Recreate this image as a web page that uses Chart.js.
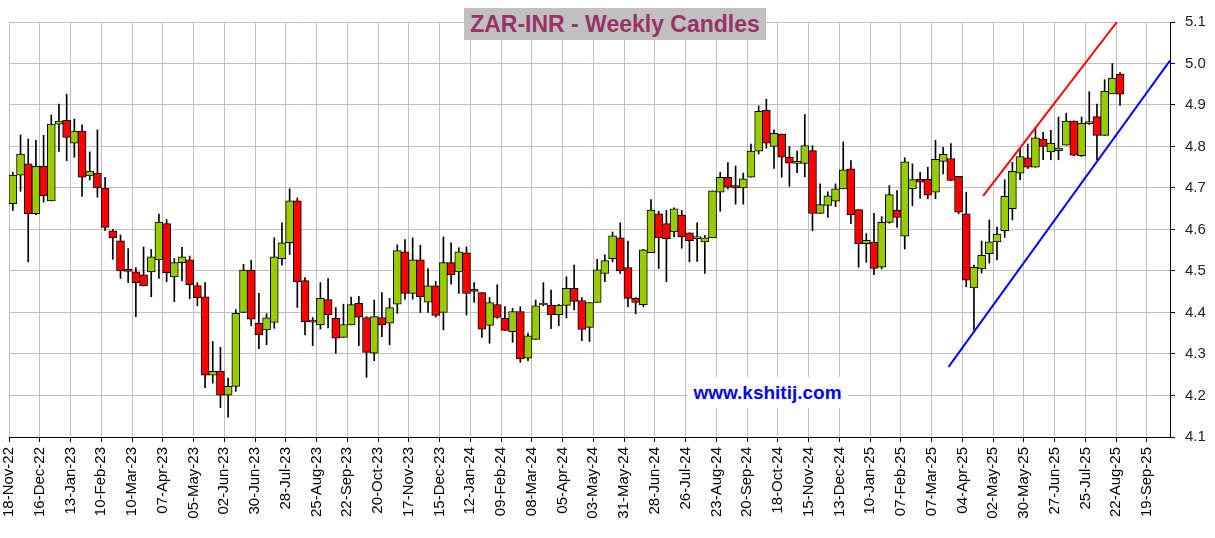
<!DOCTYPE html>
<html>
<head>
<meta charset="utf-8">
<title>ZAR-INR - Weekly Candles</title>
<script src="https://cdn.jsdelivr.net/npm/chart.js@4.4.1/dist/chart.umd.min.js"></script>
<style>
  body { margin: 0; background: #fff; font-family: "Liberation Sans", Arial, sans-serif; }
  #wrap { position: relative; width: 1215px; height: 538px; }
  #title { position: absolute; left: 464px; top: 8px; width: 302px; height: 32px; background: #c0c0c0;
           color: #993366; font-weight: bold; font-size: 23px; line-height: 33px; text-align: center; }
  #site { position: absolute; left: 687px; top: 377px; width: 161px; height: 31px; background: #fff;
          color: #0000ff; font-weight: bold; font-size: 19px; line-height: 31px; text-align: center; }
</style>
</head>
<body>
<div id="wrap">
  <canvas id="candles"></canvas>
  <div id="title">ZAR-INR - Weekly Candles</div>
  <div id="site">www.kshitij.com</div>
</div>
<script>
// Weekly OHLC, one entry per week starting 18-Nov-22
const opens = [
  4.662, 4.731, 4.758, 4.638, 4.752, 4.669, 4.854, 4.863, 4.808, 4.837,
  4.729, 4.736, 4.700, 4.597, 4.573, 4.500, 4.498, 4.491, 4.498, 4.527,
  4.614, 4.486, 4.520, 4.527, 4.465, 4.438, 4.249, 4.258, 4.201, 4.222,
  4.400, 4.502, 4.374, 4.358, 4.376, 4.530, 4.568, 4.669, 4.477, 4.380,
  4.370, 4.431, 4.386, 4.340, 4.370, 4.422, 4.388, 4.302, 4.388, 4.374,
  4.420, 4.546, 4.446, 4.527, 4.425, 4.464, 4.400, 4.520, 4.498, 4.544,
  4.452, 4.448, 4.369, 4.419, 4.386, 4.354, 4.402, 4.290, 4.335, 4.418,
  4.418, 4.395, 4.417, 4.458, 4.429, 4.364, 4.424, 4.494, 4.530, 4.580,
  4.508, 4.434, 4.419, 4.544, 4.638, 4.614, 4.594, 4.635, 4.592, 4.578,
  4.570, 4.580, 4.690, 4.726, 4.702, 4.700, 4.726, 4.789, 4.887, 4.800,
  4.830, 4.774, 4.759, 4.759, 4.790, 4.639, 4.658, 4.668, 4.698, 4.746,
  4.648, 4.566, 4.569, 4.509, 4.617, 4.646, 4.584, 4.698, 4.721, 4.721,
  4.690, 4.764, 4.771, 4.728, 4.638, 4.459, 4.505, 4.542, 4.570, 4.597,
  4.650, 4.736, 4.773, 4.750, 4.818, 4.787, 4.790, 4.803, 4.861, 4.778,
  4.855, 4.872, 4.827, 4.927, 4.974
];
const highs = [
  4.738, 4.828, 4.818, 4.815, 4.827, 4.876, 4.902, 4.926, 4.866, 4.852,
  4.787, 4.840, 4.726, 4.600, 4.587, 4.554, 4.508, 4.558, 4.552, 4.637,
  4.624, 4.530, 4.557, 4.536, 4.472, 4.472, 4.330, 4.316, 4.242, 4.407,
  4.516, 4.526, 4.446, 4.397, 4.580, 4.616, 4.698, 4.676, 4.484, 4.388,
  4.472, 4.482, 4.412, 4.420, 4.437, 4.439, 4.390, 4.430, 4.448, 4.434,
  4.563, 4.576, 4.580, 4.562, 4.506, 4.475, 4.582, 4.568, 4.556, 4.558,
  4.472, 4.448, 4.436, 4.467, 4.414, 4.410, 4.414, 4.350, 4.430, 4.472,
  4.454, 4.420, 4.486, 4.514, 4.436, 4.424, 4.528, 4.539, 4.594, 4.616,
  4.572, 4.436, 4.552, 4.672, 4.644, 4.646, 4.652, 4.646, 4.592, 4.616,
  4.586, 4.693, 4.738, 4.761, 4.753, 4.736, 4.806, 4.898, 4.914, 4.840,
  4.830, 4.800, 4.789, 4.877, 4.802, 4.710, 4.691, 4.710, 4.811, 4.766,
  4.648, 4.590, 4.639, 4.631, 4.706, 4.694, 4.773, 4.758, 4.738, 4.750,
  4.815, 4.798, 4.807, 4.728, 4.690, 4.514, 4.572, 4.623, 4.606, 4.720,
  4.762, 4.794, 4.806, 4.846, 4.834, 4.839, 4.871, 4.880, 4.862, 4.871,
  4.932, 4.902, 4.961, 5.000, 4.978
];
const lows = [
  4.646, 4.692, 4.522, 4.636, 4.666, 4.669, 4.788, 4.766, 4.774, 4.680,
  4.719, 4.678, 4.597, 4.528, 4.482, 4.472, 4.390, 4.464, 4.438, 4.482,
  4.474, 4.426, 4.476, 4.433, 4.416, 4.219, 4.230, 4.171, 4.148, 4.210,
  4.400, 4.368, 4.313, 4.322, 4.362, 4.514, 4.540, 4.412, 4.346, 4.320,
  4.360, 4.363, 4.302, 4.340, 4.370, 4.320, 4.244, 4.284, 4.342, 4.322,
  4.398, 4.432, 4.432, 4.400, 4.400, 4.389, 4.358, 4.468, 4.446, 4.394,
  4.424, 4.340, 4.326, 4.386, 4.357, 4.328, 4.280, 4.284, 4.335, 4.416,
  4.361, 4.368, 4.387, 4.406, 4.332, 4.330, 4.424, 4.474, 4.522, 4.494,
  4.414, 4.397, 4.414, 4.544, 4.506, 4.474, 4.582, 4.555, 4.522, 4.523,
  4.494, 4.580, 4.644, 4.698, 4.661, 4.661, 4.726, 4.782, 4.796, 4.747,
  4.726, 4.704, 4.737, 4.727, 4.597, 4.639, 4.629, 4.655, 4.698, 4.614,
  4.509, 4.521, 4.491, 4.505, 4.615, 4.605, 4.553, 4.657, 4.675, 4.674,
  4.674, 4.734, 4.718, 4.638, 4.462, 4.358, 4.495, 4.519, 4.527, 4.581,
  4.623, 4.720, 4.747, 4.750, 4.768, 4.768, 4.768, 4.803, 4.778, 4.776,
  4.853, 4.768, 4.827, 4.927, 4.899
];
const closes = [
  4.731, 4.782, 4.638, 4.752, 4.681, 4.854, 4.861, 4.822, 4.837, 4.726,
  4.741, 4.700, 4.605, 4.580, 4.500, 4.499, 4.472, 4.464, 4.534, 4.618,
  4.496, 4.520, 4.534, 4.467, 4.436, 4.249, 4.258, 4.201, 4.222, 4.398,
  4.502, 4.384, 4.346, 4.387, 4.534, 4.568, 4.669, 4.474, 4.378, 4.377,
  4.434, 4.394, 4.338, 4.371, 4.419, 4.389, 4.304, 4.390, 4.370, 4.412,
  4.549, 4.446, 4.527, 4.438, 4.464, 4.393, 4.520, 4.491, 4.546, 4.446,
  4.451, 4.360, 4.424, 4.388, 4.357, 4.402, 4.288, 4.344, 4.416, 4.419,
  4.395, 4.418, 4.458, 4.427, 4.359, 4.424, 4.503, 4.525, 4.585, 4.501,
  4.434, 4.424, 4.551, 4.647, 4.580, 4.578, 4.650, 4.582, 4.573, 4.583,
  4.580, 4.693, 4.726, 4.702, 4.701, 4.722, 4.789, 4.885, 4.808, 4.832,
  4.774, 4.760, 4.764, 4.802, 4.639, 4.660, 4.681, 4.698, 4.744, 4.636,
  4.566, 4.574, 4.506, 4.617, 4.684, 4.629, 4.763, 4.720, 4.714, 4.683,
  4.769, 4.781, 4.718, 4.642, 4.478, 4.509, 4.538, 4.570, 4.589, 4.680,
  4.740, 4.776, 4.750, 4.821, 4.800, 4.808, 4.796, 4.861, 4.779, 4.856,
  4.856, 4.827, 4.933, 4.965, 4.926
];

// x axis labels, one every 4 weeks
const tickWeeks = [0, 4, 8, 12, 16, 20, 24, 28, 32, 36, 40, 44, 48, 52, 56, 60, 64, 68, 72,
  76, 80, 84, 88, 92, 96, 100, 104, 108, 112, 116, 120, 124, 128, 132, 136, 140, 144, 148];
const tickLabels = ["18-Nov-22", "16-Dec-22", "13-Jan-23", "10-Feb-23", "10-Mar-23", "07-Apr-23",
  "05-May-23", "02-Jun-23", "30-Jun-23", "28-Jul-23", "25-Aug-23", "22-Sep-23", "20-Oct-23",
  "17-Nov-23", "15-Dec-23", "12-Jan-24", "09-Feb-24", "08-Mar-24", "05-Apr-24", "03-May-24",
  "31-May-24", "28-Jun-24", "26-Jul-24", "23-Aug-24", "20-Sep-24", "18-Oct-24", "15-Nov-24",
  "13-Dec-24", "10-Jan-25", "07-Feb-25", "07-Mar-25", "04-Apr-25", "02-May-25", "30-May-25",
  "27-Jun-25", "25-Jul-25", "22-Aug-25", "19-Sep-25"];
const priceTicks = [4.1, 4.2, 4.3, 4.4, 4.5, 4.6, 4.7, 4.8, 4.9, 5.0, 5.1];

// trend lines (week, price)
const redLineWeeks = [126.7, 144.1];
const redLineValues = [4.681, 5.1];
const blueLineWeeks = [122.2, 151];
const blueLineValues = [4.269, 5.007];

/* ---------- BUILD DATASETS ---------- */
const UP = "#99cc00", DOWN = "#ff0000";
const bodies = opens.map((o, i) => ({ x: i + 0.5, y: [o, closes[i]] }));
const wicks = lows.map((l, i) => ({ x: i + 0.5, y: [l, highs[i]] }));
const bodyColors = opens.map((o, i) => closes[i] >= o ? UP : DOWN);
const redLine = redLineWeeks.map((w, i) => ({ x: w, y: redLineValues[i] }));
const blueLine = blueLineWeeks.map((w, i) => ({ x: w, y: blueLineValues[i] }));

const FONT = "'Liberation Sans', Arial, sans-serif";

new Chart(document.getElementById("candles"), {
  type: "bar",
  data: {
    datasets: [
      { type: "line", data: redLine, borderColor: "#ff0000", borderWidth: 2, pointRadius: 0, order: 0 },
      { type: "line", data: blueLine, borderColor: "#0000ff", borderWidth: 2, pointRadius: 0, order: 0 },
      { data: bodies, backgroundColor: bodyColors, borderColor: "#000", borderWidth: 1,
        borderSkipped: false, barThickness: 8, minBarLength: 2, grouped: false, order: 1 },
      { data: wicks, backgroundColor: "#000", borderWidth: 0, barThickness: 1, grouped: false, order: 2 }
    ]
  },
  options: {
    responsive: true,
    maintainAspectRatio: false,
    animation: false,
    layout: { padding: { left: 9, top: 22, right: 0, bottom: 0 } },
    plugins: { legend: { display: false }, tooltip: { enabled: false } },
    scales: {
      x: {
        type: "linear", min: 0, max: 151, offset: false,
        afterBuildTicks: s => { s.ticks = tickWeeks.map(v => ({ value: v })); },
        afterFit: s => { s.height = 101; },
        grid: { color: "#c0c0c0", lineWidth: 1, offset: false, tickLength: 5, tickColor: "#000" },
        border: { color: "#000", width: 1 },
        ticks: {
          autoSkip: false, minRotation: 90, maxRotation: 90, padding: 5, color: "#000",
          font: { family: FONT, size: 15 },
          callback: v => tickLabels[tickWeeks.indexOf(v)]
        }
      },
      y: {
        position: "right", min: 4.1, max: 5.1,
        afterBuildTicks: s => { s.ticks = priceTicks.map(v => ({ value: v })); },
        afterFit: s => { s.width = 45; },
        grid: { color: "#c0c0c0", lineWidth: 1, tickLength: 5, tickColor: "#000" },
        border: { color: "#000", width: 1 },
        ticks: { padding: 10, color: "#222", font: { family: FONT, size: 15 },
                 callback: v => v.toFixed(1) }
      }
    }
  }
});
</script>
</body>
</html>
